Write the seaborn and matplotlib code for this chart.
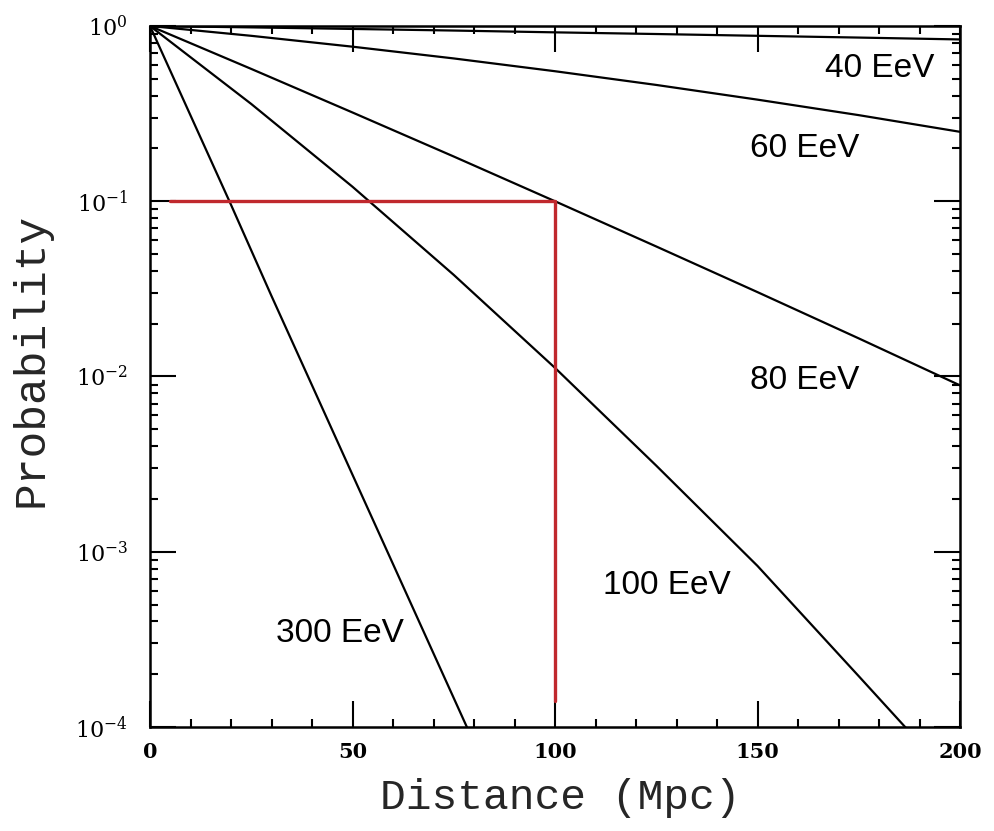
import numpy as np
import pandas as pd
import matplotlib
matplotlib.use("Agg")
import matplotlib.pyplot as plt
import seaborn as sns
from matplotlib.ticker import FixedLocator, LogLocator, NullFormatter, FixedFormatter

# ---- data ----
dist_grid = [0, 25, 50, 75, 100, 125, 150, 175, 200]
prob_40 = [1.0, 0.982, 0.962, 0.942, 0.920, 0.900, 0.879, 0.859, 0.838]
prob_60 = [1.0, 0.879, 0.762, 0.653, 0.552, 0.461, 0.380, 0.310, 0.249]
prob_80 = [1.0, 0.569, 0.321, 0.180, 0.100, 0.0552, 0.0303, 0.0165, 0.0089]
dist_100 = [0, 25, 50, 75, 100, 125, 150, 175, 190]
prob_100 = [1.0, 0.359, 0.121, 0.038, 0.0112, 0.0031, 0.00083, 0.000195, 0.0000813]
dist_300 = [0, 10, 20, 30, 40, 50, 60, 70, 80]
prob_300 = [1.0, 0.309, 0.0955, 0.0288, 0.00891, 0.00275, 0.000851, 0.000263, 0.0000813]

marker_x = [5, 100, 100]
marker_y = [0.1, 0.1, 0.00014]

curve_labels = ["40 EeV", "60 EeV", "80 EeV", "100 EeV", "300 EeV"]
label_x = [180.2, 161.7, 161.7, 127.7, 46.9]
label_y = [0.575, 0.201, 0.00955, 0.000638, 0.00034]

x_ticks = [0, 50, 100, 150, 200]
y_ticks = [1e-4, 1e-3, 1e-2, 1e-1, 1e0]
y_tick_labels = [r"$10^{-4}$", r"$10^{-3}$", r"$10^{-2}$", r"$10^{-1}$", r"$10^{0}$"]

# ---- plotting ----
sns.set_style("ticks")
plt.rcParams["font.family"] = ["DejaVu Serif"]
plt.rcParams["mathtext.fontset"] = "dejavuserif"

fig = plt.figure(figsize=(9.94, 8.31), dpi=100)
ax = fig.add_axes([150 / 994, 1 - 727 / 831, 810 / 994, 701 / 831])

curves = [
    (dist_grid, prob_40),
    (dist_grid, prob_60),
    (dist_grid, prob_80),
    (dist_100, prob_100),
    (dist_300, prob_300),
]
for xs, ys in curves:
    df = pd.DataFrame({"Distance": xs, "Probability": ys})
    sns.lineplot(data=df, x="Distance", y="Probability", ax=ax, color="black",
                 linewidth=1.6, sort=False, estimator=None, legend=False)

mdf = pd.DataFrame({"Distance": marker_x, "Probability": marker_y})
sns.lineplot(data=mdf, x="Distance", y="Probability", ax=ax, color="#C0282D",
             linewidth=2.4, sort=False, estimator=None, legend=False)

for t, lx, ly in zip(curve_labels, label_x, label_y):
    ax.text(lx, ly, t, ha="center", va="center", fontsize=24,
            family=["Liberation Sans"], color="black")

ax.set_yscale("log")
ax.set_xlim(0, 200)
ax.set_ylim(1e-4, 1e0)

ax.xaxis.set_major_locator(FixedLocator(x_ticks))
ax.xaxis.set_minor_locator(FixedLocator(list(range(0, 201, 10))))
ax.yaxis.set_major_locator(FixedLocator(y_ticks))
ax.yaxis.set_major_formatter(FixedFormatter(y_tick_labels))
ax.yaxis.set_minor_locator(LogLocator(base=10, subs=np.arange(2, 10), numticks=20))
ax.yaxis.set_minor_formatter(NullFormatter())

ax.tick_params(which="both", direction="in", top=True, right=True, width=1.5, colors="black")
ax.tick_params(which="major", length=19)
ax.tick_params(which="minor", length=6)
ax.tick_params(axis="x", which="major", pad=11, labelsize=15)
ax.tick_params(axis="y", which="major", pad=16, labelsize=16)
for lab in ax.get_xticklabels() + ax.get_yticklabels():
    lab.set_fontweight("bold")

for sp in ax.spines.values():
    sp.set_linewidth(1.8)
    sp.set_color("black")
    sp.set_visible(True)

ax.set_xlabel("Distance (Mpc)", fontsize=31, family=["Liberation Mono"])
ax.set_ylabel("Probability", fontsize=32, family=["Liberation Mono"])
ax.xaxis.set_label_coords(0.506, -0.073)
ax.yaxis.set_label_coords(-0.121, 0.5235)

fig.savefig("out.png", dpi=100)
